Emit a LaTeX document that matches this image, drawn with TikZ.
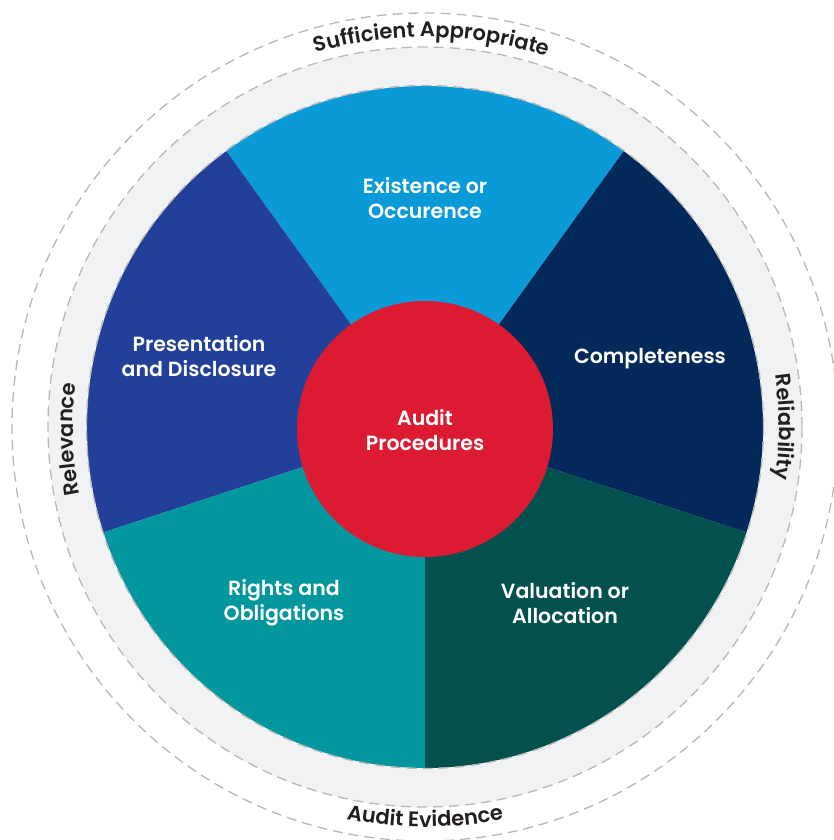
\documentclass[tikz,border=0pt]{standalone}
\usepackage{fontspec}
\setmainfont{Poppins}
\newfontfamily\medfont{Poppins Medium}
\newfontfamily\semifont{Poppins SemiBold}
\usetikzlibrary{decorations.text}

\definecolor{cExist}{HTML}{0A9AD7}
\definecolor{cComplete}{HTML}{03295A}
\definecolor{cValue}{HTML}{03514F}
\definecolor{cRights}{HTML}{02969E}
\definecolor{cPresent}{HTML}{22409A}
\definecolor{cCore}{HTML}{DC1B33}
\definecolor{cRing}{HTML}{F1F2F4}
\definecolor{cDash}{HTML}{B8B8B8}
\definecolor{cLabel}{HTML}{231F20}

\tikzset{
  guide/.style={draw=cDash, line width=1.3pt, dash pattern=on 10pt off 6pt},
  segtext/.style={text=white, align=center, inner sep=0pt,
    font=\semifont\fontsize{20.5}{25}\selectfont},
  ringtext/.style={decorate, decoration={text along path, text align=center,
    text color=cLabel}},
}
\newcommand\ringfont{\semifont\fontsize{21}{21}\selectfont}

\begin{document}
\begin{tikzpicture}[x=1pt, y=1pt]
  \useasboundingbox (-425,-413) rectangle (409,427);
  \fill[white] (-425,-413) rectangle (409,427);

  % outer band and guide circles
  \fill[cRing] (0,0) ellipse [x radius=377, y radius=380];
  \draw[guide] (0,0) ellipse [x radius=413, y radius=414];
  \draw[guide] (0,0) ellipse [x radius=377, y radius=380];

  % five wedges
  \fill[cExist]    (0,0) -- (54:338 and 341)  arc[start angle=54,  end angle=126, x radius=338, y radius=341] -- cycle;
  \fill[cPresent]  (0,0) -- (126:338 and 341) arc[start angle=126, end angle=198, x radius=338, y radius=341] -- cycle;
  \fill[cRights]   (0,0) -- (198:338 and 341) arc[start angle=198, end angle=270, x radius=338, y radius=341] -- cycle;
  \fill[cValue]    (0,0) -- (270:338 and 341) arc[start angle=270, end angle=342, x radius=338, y radius=341] -- cycle;
  \fill[cComplete] (0,0) -- (-18:338 and 341) arc[start angle=-18, end angle=54,  x radius=338, y radius=341] -- cycle;
  \draw[guide] (0,0) ellipse [x radius=338.5, y radius=341.5];

  % centre disc
  \node[circle, fill=cCore, minimum size=256pt, inner sep=0pt] (core) at (0,-2) {};
  \node[segtext] (audit) at (0,-3) {Audit\\Procedures};

  % wedge labels
  \node[segtext] (exist)    at (0,229)    {Existence or\\Occurence};
  \node[segtext] (complete) at (225,68)   {Completeness};
  \node[segtext] (value)    at (140,-176) {Valuation or\\Allocation};
  \node[segtext] (rights)   at (-141,-176) {Rights and\\Obligations};
  \node[segtext] (present)  at (-226,71)  {Presentation\\and Disclosure};

  % labels around the band
  \path[ringtext, decoration={text={|\ringfont|Sufficient Appropriate}}]
    (125:390) arc[start angle=125, end angle=53, radius=390];
  \path[ringtext, decoration={text={|\ringfont|Audit Evidence}}]
    (233:400) arc[start angle=233, end angle=307, radius=400];
  \path[ringtext, decoration={text={|\ringfont|Relevance}}]
    (202:352) arc[start angle=202, end angle=162, radius=352];
  \path[ringtext, decoration={text={|\ringfont|Reliability}}]
    (20:354) arc[start angle=20, end angle=-20, radius=354];
\end{tikzpicture}
\end{document}
